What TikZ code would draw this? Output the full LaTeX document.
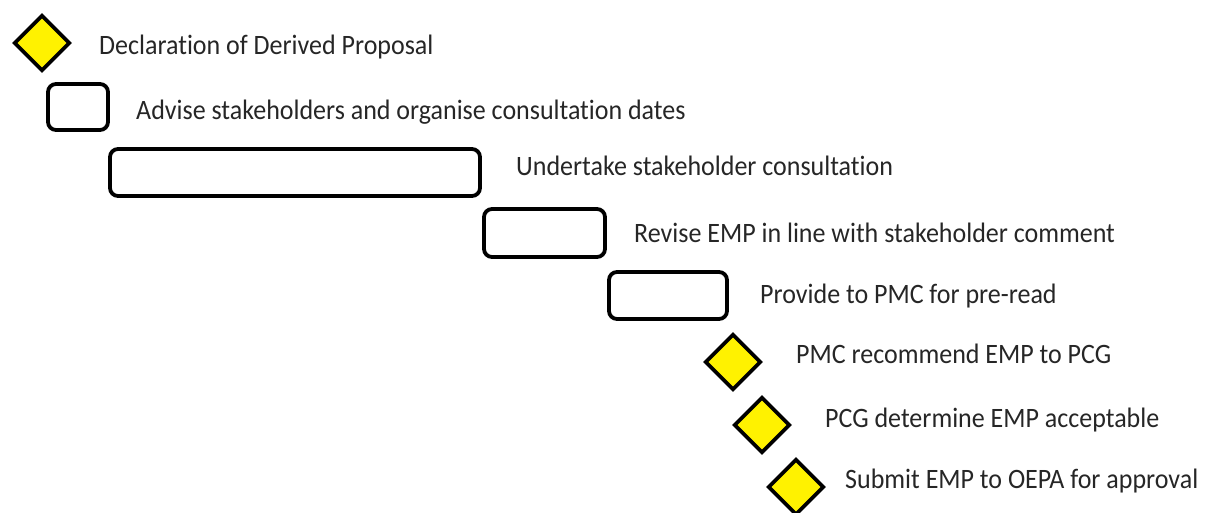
\documentclass[tikz,border=0pt]{standalone}
\usepackage{fontspec}
\setmainfont{Carlito}[Ligatures={NoCommon,NoRare,NoContextual}]
\usetikzlibrary{shapes.geometric}
\tikzset{
  mile/.style={diamond, draw=black, line width=3.8pt, fill=yellow, minimum width=56pt, minimum height=56pt, inner sep=0pt, aspect=1},
  task/.style={draw=black, line width=3.8pt, rounded corners=8pt, fill=white},
  lbl/.style={anchor=base west, inner sep=0pt, font=\fontsize{26}{30}\selectfont, text=black!85, yscale=1.08, transform shape}
}
\begin{document}
\begin{tikzpicture}[x=1pt,y=-1pt]
\useasboundingbox (0,0) rectangle (1209,513);
\node[mile] (d1) at (42,43) {};
\node[lbl] (t1) at (99,55) {Declaration of Derived Proposal};
\draw[task] (48,84) rectangle (108,130);
\node[inner sep=0pt] (b2) at (78,107) {};
\node[lbl] (t2) at (136,120) {Advise stakeholders and organise consultation dates};
\draw[task] (110,149) rectangle (480,196);
\node[inner sep=0pt] (b3) at (295,172) {};
\node[lbl] (t3) at (516,176) {Undertake stakeholder consultation};
\draw[task] (484,209) rectangle (605,257);
\node[inner sep=0pt] (b4) at (544,233) {};
\node[lbl] (t4) at (634,242) {Revise EMP in line with stakeholder comment};
\draw[task] (609,272) rectangle (727,319);
\node[inner sep=0pt] (b5) at (668,295) {};
\node[lbl] (t5) at (760,303) {Provide to PMC for pre-read};
\node[mile] (d6) at (733,362) {};
\node[lbl] (t6) at (796,363) {PMC recommend EMP to PCG};
\node[mile] (d7) at (762,425) {};
\node[lbl] (t7) at (825,427) {PCG determine EMP acceptable};
\node[mile] (d8) at (796,487) {};
\node[lbl] (t8) at (845,488) {Submit EMP to OEPA for approval};
\end{tikzpicture}
\end{document}
